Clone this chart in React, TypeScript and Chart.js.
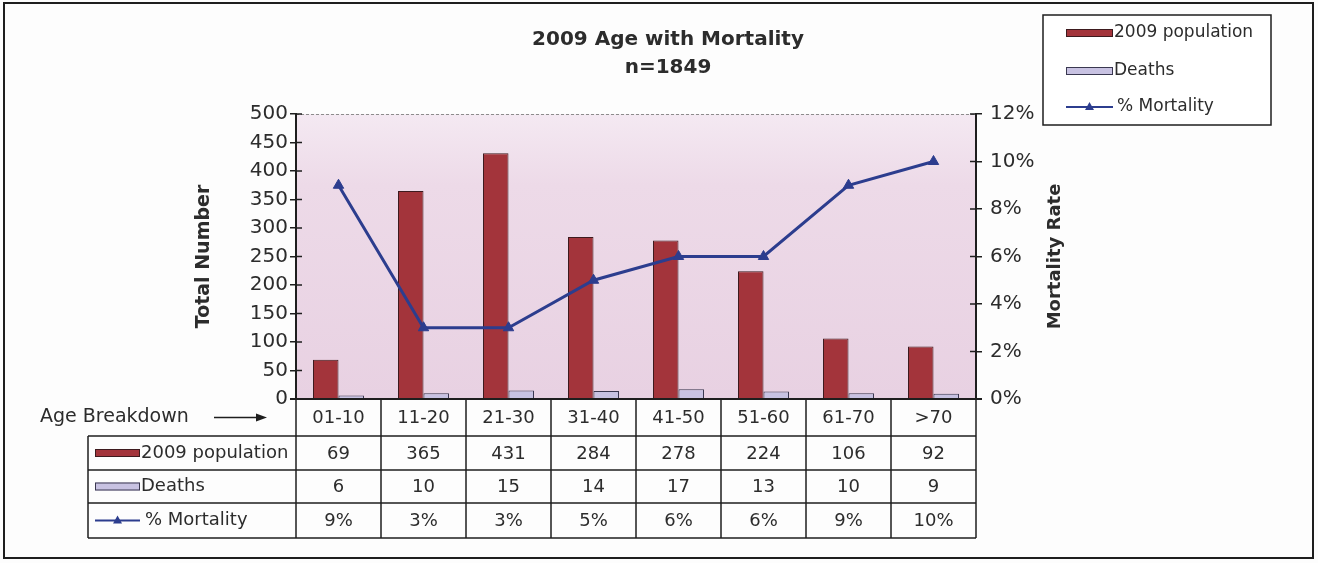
import React, { useEffect, useRef } from "react";
import { Chart, registerables } from "chart.js";

Chart.register(...registerables);

// ---- data ----
const categories = ["01-10", "11-20", "21-30", "31-40", "41-50", "51-60", "61-70", ">70"];
const population = [69, 365, 431, 284, 278, 224, 106, 92];
const deaths = [6, 10, 15, 14, 17, 13, 10, 9];
const mortality = [9, 3, 3, 5, 6, 6, 9, 10];
const seriesNames = ["2009 population", "Deaths", "% Mortality"];
const titleLines = ["2009 Age with Mortality", "n=1849"];
const leftAxisTitle = "Total Number";
const rightAxisTitle = "Mortality Rate";
const rowHeaderLabel = "Age Breakdown";

// ---- style ----
const FONT = "'DejaVu Sans', 'Liberation Sans', Arial, sans-serif";
const INK = "#2c2c2c";
const LINE = "#1e1e1e";
const RED = "#a3343b";
const RED_BORDER = "#3d1a1e";
const LAV = "#c8c2e2";
const LAV_BORDER = "#3a3850";
const NAVY = "#2c3d8e";

function drawTriangle(ctx: CanvasRenderingContext2D, x: number, y: number, r: number) {
  ctx.beginPath();
  ctx.moveTo(x, y - r);
  ctx.lineTo(x + r * 0.9, y + r * 0.6);
  ctx.lineTo(x - r * 0.9, y + r * 0.6);
  ctx.closePath();
  ctx.fill();
}

function drawKey(ctx: CanvasRenderingContext2D, kind: number, x0: number, x1: number, y: number) {
  if (kind === 2) {
    ctx.strokeStyle = NAVY;
    ctx.lineWidth = 2;
    ctx.beginPath();
    ctx.moveTo(x0, y);
    ctx.lineTo(x1, y);
    ctx.stroke();
    ctx.fillStyle = NAVY;
    drawTriangle(ctx, (x0 + x1) / 2, y, 5);
  } else {
    ctx.fillStyle = kind === 0 ? RED : LAV;
    ctx.fillRect(x0, y - 4, x1 - x0, 8);
    ctx.strokeStyle = kind === 0 ? RED_BORDER : LAV_BORDER;
    ctx.lineWidth = 1;
    ctx.strokeRect(x0 + 0.5, y - 3.5, x1 - x0 - 1, 7);
  }
}

const decorations = {
  id: "decorations",
  beforeDraw(chart: any) {
    const { ctx, chartArea: a } = chart;
    ctx.save();
    ctx.fillStyle = "#fdfdfd";
    ctx.fillRect(0, 0, chart.width, chart.height);
    const g = ctx.createLinearGradient(0, a.top, 0, a.bottom);
    g.addColorStop(0, "#f4e9f2");
    g.addColorStop(0.25, "#eddae8");
    g.addColorStop(1, "#e8d1e2");
    ctx.fillStyle = g;
    ctx.fillRect(a.left, a.top, a.right - a.left, a.bottom - a.top);
    ctx.strokeStyle = "#8c8c8c";
    ctx.lineWidth = 1;
    ctx.setLineDash([3, 2]);
    ctx.beginPath();
    ctx.moveTo(a.left, a.top + 0.5);
    ctx.lineTo(a.right, a.top + 0.5);
    ctx.stroke();
    ctx.restore();
  },
  afterDraw(chart: any) {
    const { ctx, chartArea: a } = chart;
    const xs = chart.scales.x;
    const yL = chart.scales.y;
    const yR = chart.scales.y1;
    ctx.save();

    // outer frame
    ctx.strokeStyle = LINE;
    ctx.lineWidth = 2;
    ctx.strokeRect(4, 3, chart.width - 9, chart.height - 8);

    // title
    ctx.fillStyle = INK;
    ctx.textAlign = "center";
    ctx.textBaseline = "middle";
    ctx.font = `bold 20px ${FONT}`;
    ctx.fillText(titleLines[0], 668, 40);
    ctx.fillText(titleLines[1], 668, 68);

    // axis titles
    ctx.font = `bold 19px ${FONT}`;
    ctx.save();
    ctx.translate(204, (a.top + a.bottom) / 2);
    ctx.rotate(-Math.PI / 2);
    ctx.fillText(leftAxisTitle, 0, 0);
    ctx.restore();
    ctx.save();
    ctx.translate(1055, (a.top + a.bottom) / 2);
    ctx.rotate(-Math.PI / 2);
    ctx.font = `bold 18px ${FONT}`;
    ctx.fillText(rightAxisTitle, 0, 0);
    ctx.restore();

    // inner tick halves
    ctx.strokeStyle = LINE;
    ctx.lineWidth = 1.5;
    yL.ticks.forEach((t: any) => {
      const y = yL.getPixelForValue(t.value);
      ctx.beginPath();
      ctx.moveTo(a.left, y);
      ctx.lineTo(a.left + 6, y);
      ctx.stroke();
    });
    yR.ticks.forEach((t: any) => {
      const y = yR.getPixelForValue(t.value);
      ctx.beginPath();
      ctx.moveTo(a.right - 6, y);
      ctx.lineTo(a.right, y);
      ctx.stroke();
    });

    // x axis line
    ctx.lineWidth = 2;
    ctx.beginPath();
    ctx.moveTo(a.left - 6, a.bottom);
    ctx.lineTo(a.right + 6, a.bottom);
    ctx.stroke();

    // data table
    const half = (xs.getPixelForValue(1) - xs.getPixelForValue(0)) / 2;
    const colEdge = (i: number) => xs.getPixelForValue(i) - half;
    const rowEdges = [a.bottom, a.bottom + 37, a.bottom + 71, a.bottom + 104, a.bottom + 139];
    const labelLeft = 88;
    const n = categories.length;
    const tableRight = xs.getPixelForValue(n - 1) + half;
    ctx.lineWidth = 1.5;
    ctx.strokeStyle = LINE;
    for (let i = 0; i <= n; i++) {
      const x = i === n ? tableRight : colEdge(i);
      ctx.beginPath();
      ctx.moveTo(x, rowEdges[0]);
      ctx.lineTo(x, rowEdges[4]);
      ctx.stroke();
    }
    for (let r = 1; r <= 4; r++) {
      ctx.beginPath();
      ctx.moveTo(labelLeft, rowEdges[r]);
      ctx.lineTo(tableRight, rowEdges[r]);
      ctx.stroke();
    }
    ctx.beginPath();
    ctx.moveTo(labelLeft, rowEdges[1]);
    ctx.lineTo(labelLeft, rowEdges[4]);
    ctx.stroke();

    const rowMid = (r: number) => (rowEdges[r] + rowEdges[r + 1]) / 2;
    ctx.fillStyle = INK;
    ctx.textAlign = "center";
    ctx.textBaseline = "middle";
    ctx.font = `18px ${FONT}`;
    const rows: string[][] = [
      categories,
      population.map(String),
      deaths.map(String),
      mortality.map((v) => v + "%"),
    ];
    rows.forEach((vals, r) => {
      vals.forEach((v, i) => {
        ctx.fillText(v, xs.getPixelForValue(i), rowMid(r) + 1);
      });
    });

    // row header labels
    ctx.textAlign = "left";
    seriesNames.forEach((name, k) => {
      const y = rowMid(k + 1);
      drawKey(ctx, k, 95, 140, y);
      ctx.fillStyle = INK;
      ctx.font = `18px ${FONT}`;
      ctx.fillText(name, k === 2 ? 145 : 141, y);
    });

    // "Age Breakdown ->"
    ctx.font = `19px ${FONT}`;
    ctx.fillStyle = INK;
    ctx.fillText(rowHeaderLabel, 40, rowMid(0));
    ctx.strokeStyle = LINE;
    ctx.lineWidth = 1.5;
    ctx.beginPath();
    ctx.moveTo(214, rowMid(0));
    ctx.lineTo(262, rowMid(0));
    ctx.stroke();
    ctx.fillStyle = LINE;
    ctx.beginPath();
    ctx.moveTo(267, rowMid(0));
    ctx.lineTo(256, rowMid(0) - 4);
    ctx.lineTo(256, rowMid(0) + 4);
    ctx.closePath();
    ctx.fill();

    // legend
    ctx.fillStyle = "#ffffff";
    ctx.fillRect(1043, 15, 228, 110);
    ctx.strokeStyle = LINE;
    ctx.lineWidth = 1.5;
    ctx.strokeRect(1043, 15, 228, 110);
    const ly = [33, 71, 107];
    seriesNames.forEach((name, k) => {
      drawKey(ctx, k, 1066, 1113, ly[k]);
      ctx.fillStyle = INK;
      ctx.font = `17px ${FONT}`;
      ctx.textAlign = "left";
      ctx.fillText(name, k === 2 ? 1117 : 1114, ly[k]);
    });

    ctx.restore();
  },
};

export default function App() {
  const ref = useRef<HTMLCanvasElement>(null);
  useEffect(() => {
    document.body.style.margin = "0";
    const tickFont = { family: FONT, size: 20 };
    const chart = new Chart(ref.current as HTMLCanvasElement, {
      type: "bar",
      data: {
        labels: categories,
        datasets: [
          {
            type: "line",
            label: seriesNames[2],
            data: mortality,
            yAxisID: "y1",
            order: 0,
            borderColor: NAVY,
            backgroundColor: NAVY,
            borderWidth: 3,
            pointStyle: "triangle",
            pointRadius: 6,
            pointBorderWidth: 1,
            pointBackgroundColor: NAVY,
            pointBorderColor: NAVY,
            tension: 0,
          } as any,
          {
            type: "bar",
            label: seriesNames[0],
            data: population,
            yAxisID: "y",
            order: 1,
            backgroundColor: RED,
            borderColor: RED_BORDER,
            borderWidth: 1,
            categoryPercentage: 0.6,
            barPercentage: 1,
          },
          {
            type: "bar",
            label: seriesNames[1],
            data: deaths,
            yAxisID: "y",
            order: 1,
            backgroundColor: LAV,
            borderColor: LAV_BORDER,
            borderWidth: 1,
            categoryPercentage: 0.6,
            barPercentage: 1,
          },
        ],
      },
      options: {
        responsive: false,
        animation: false,
        layout: { padding: { left: 196, right: 242, top: 114, bottom: 164 } },
        plugins: {
          legend: { display: false },
          title: { display: false },
          tooltip: { enabled: false },
        },
        scales: {
          x: { display: false, offset: true },
          y: {
            position: "left",
            min: 0,
            max: 500,
            ticks: { stepSize: 50, color: INK, font: tickFont, padding: 2 },
            grid: { drawOnChartArea: false, tickLength: 6, color: LINE, lineWidth: 1.5 },
            border: { display: true, color: LINE, width: 2 },
            afterFit: (s: any) => {
              s.width = 100;
            },
          },
          y1: {
            position: "right",
            min: 0,
            max: 12,
            ticks: {
              stepSize: 2,
              color: INK,
              font: tickFont,
              padding: 8,
              callback: (v: any) => v + "%",
            },
            grid: { drawOnChartArea: false, tickLength: 6, color: LINE, lineWidth: 1.5 },
            border: { display: true, color: LINE, width: 2 },
            afterFit: (s: any) => {
              s.width = 100;
            },
          },
        },
      },
      plugins: [decorations],
    });
    return () => chart.destroy();
  }, []);
  return (
    <div style={{ position: "fixed", left: 0, top: 0, width: 1318, height: 563, background: "#fdfdfd" }}>
      <canvas ref={ref} width={1318} height={563} style={{ display: "block" }} />
    </div>
  );
}
